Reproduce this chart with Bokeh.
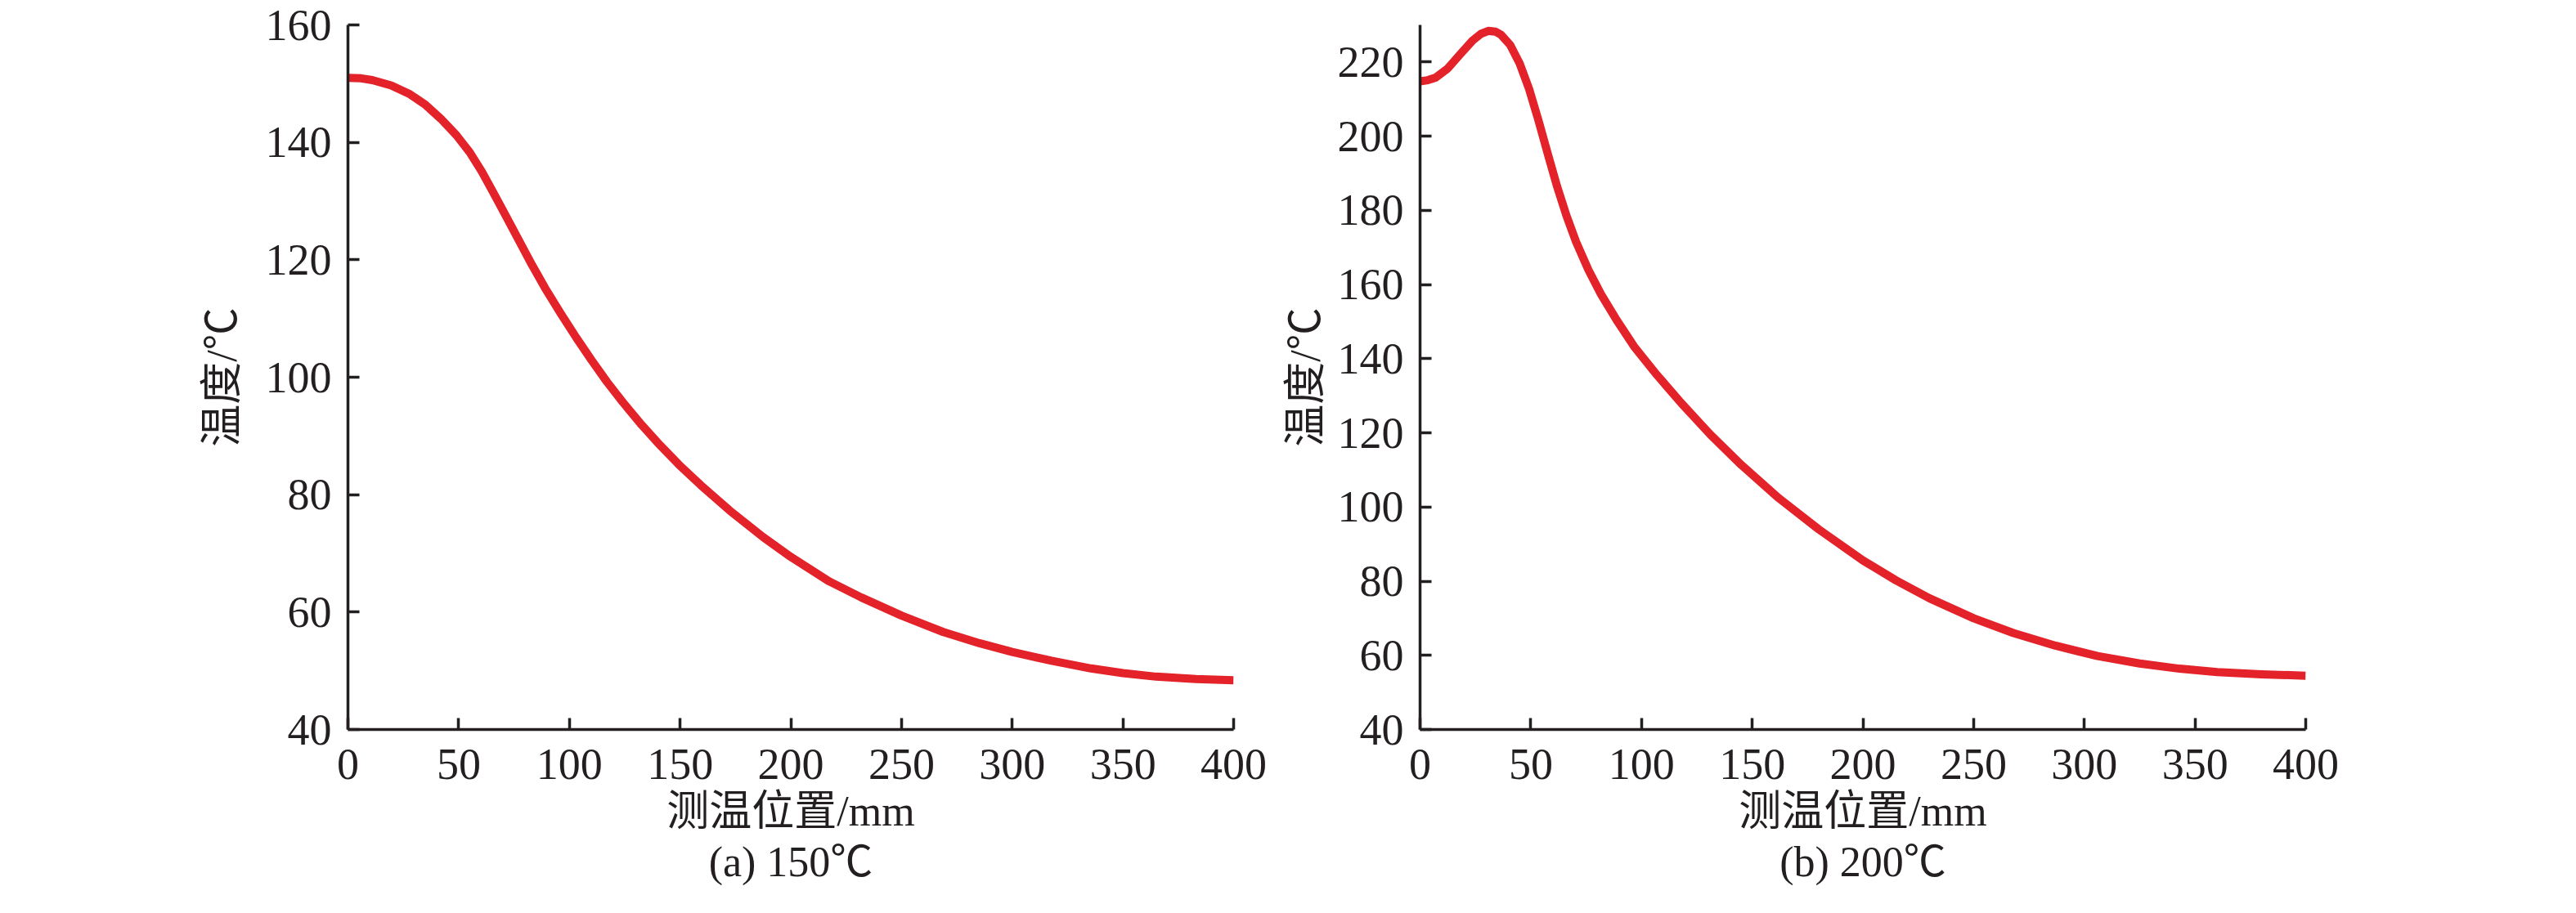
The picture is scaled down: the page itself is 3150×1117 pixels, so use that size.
from bokeh.plotting import figure
from bokeh.layouts import row
from bokeh.models import FixedTicker, Range1d, Title
from bokeh.embed import file_html
from bokeh.resources import INLINE

# ---- data ----
x_150 = [0, 6, 11, 19.5, 28, 35, 42, 49, 55, 60.5, 66, 72, 77.5, 83, 89, 96,
         103, 110, 117, 124, 132.6, 141, 149.5, 159.4, 172.4, 187.4, 200, 217,
         231.8, 250, 268.9, 285.2, 300, 317.8, 335.6, 350, 365, 383, 400]
t_150 = [151.0, 150.9, 150.6, 149.7, 148.2, 146.4, 144.0, 141.2, 138.3, 135.0,
         131.2, 127.0, 123.1, 119.2, 115.2, 110.9, 106.8, 102.9, 99.2, 95.8,
         91.9, 88.4, 85.1, 81.6, 77.3, 72.8, 69.4, 65.3, 62.5, 59.4, 56.6,
         54.7, 53.2, 51.7, 50.4, 49.6, 49.0, 48.6, 48.4]

x_200 = [0, 3.5, 7, 12.4, 18, 23.7, 27.5, 30.8, 34, 36.5, 40.7, 45, 49.2, 53.4,
         57.7, 61.9, 66.1, 70.4, 76, 81.7, 88.8, 97, 107, 118, 131, 145, 162,
         180, 200, 215, 230, 250, 268, 287, 306, 325, 343, 360, 380, 400]
t_200 = [214.8, 215.1, 215.8, 218.2, 222.0, 225.8, 227.6, 228.4, 228.2, 227.4,
         224.6, 219.6, 212.8, 204.4, 195.2, 186.4, 178.6, 171.6, 164.0, 157.4,
         150.4, 143.0, 135.6, 128.0, 119.6, 111.4, 102.4, 94.0, 85.6, 80.2,
         75.4, 70.0, 66.0, 62.6, 59.8, 57.8, 56.4, 55.5, 54.9, 54.5]

x_ticks = [0, 50, 100, 150, 200, 250, 300, 350, 400]
y_ticks_150 = [40, 60, 80, 100, 120, 140, 160]
y_ticks_200 = [40, 60, 80, 100, 120, 140, 160, 180, 200, 220]

x_label = "测温位置/mm"
y_label = "温度/℃"
captions = ["(a) 150℃", "(b) 200℃"]

# ---- style ----
RED = "#e42229"
INK = "#231f20"
FONT = "'Liberation Serif', 'Noto Sans CJK SC'"
H = 1101


def make(xs, ys, yr, yticks, caption, width, bl, br, ylab_standoff):
    p = figure(width=width, height=H, x_range=Range1d(0, 400),
               y_range=Range1d(*yr), output_backend="svg",
               toolbar_location=None, min_border_left=bl, min_border_right=br,
               min_border_top=30, min_border_bottom=209)
    p.line(xs, ys, line_color=RED, line_width=10, line_join="round")
    p.grid.visible = False
    p.outline_line_color = None
    p.background_fill_color = "white"
    p.border_fill_color = "white"
    for ax in (p.xaxis[0], p.yaxis[0]):
        ax.axis_line_color = INK
        ax.axis_line_width = 3.5
        ax.major_tick_line_color = INK
        ax.major_tick_line_width = 3.5
        ax.major_tick_in = 14
        ax.major_tick_out = 0
        ax.minor_tick_line_color = None
        ax.major_label_text_font = FONT
        ax.major_label_text_font_size = "54px"
        ax.major_label_text_color = INK
        ax.axis_label_text_font = FONT
        ax.axis_label_text_font_size = "52px"
        ax.axis_label_text_font_style = "normal"
        ax.axis_label_text_color = INK
    p.xaxis[0].ticker = FixedTicker(ticks=x_ticks)
    p.yaxis[0].ticker = FixedTicker(ticks=yticks)
    p.xaxis[0].major_label_standoff = 24
    p.yaxis[0].major_label_standoff = 20
    p.xaxis[0].axis_label = x_label
    p.xaxis[0].axis_label_standoff = 8
    p.yaxis[0].axis_label = y_label
    p.yaxis[0].axis_label_standoff = ylab_standoff
    t = Title(text=caption, align="center", text_font=FONT,
              text_font_size="52px", text_font_style="normal",
              text_color=INK, standoff=0, offset=0)
    p.add_layout(t, "below")
    return p


p1 = make(x_150, t_150, (40, 160), y_ticks_150, captions[0], 1560, 425, 52, 22)
p2 = make(x_200, t_200, (40, 230), y_ticks_200, captions[1], 1574, 176, 315, 8)

layout = row(p1, p2)
open("out.html", "w").write(file_html(layout, INLINE))
